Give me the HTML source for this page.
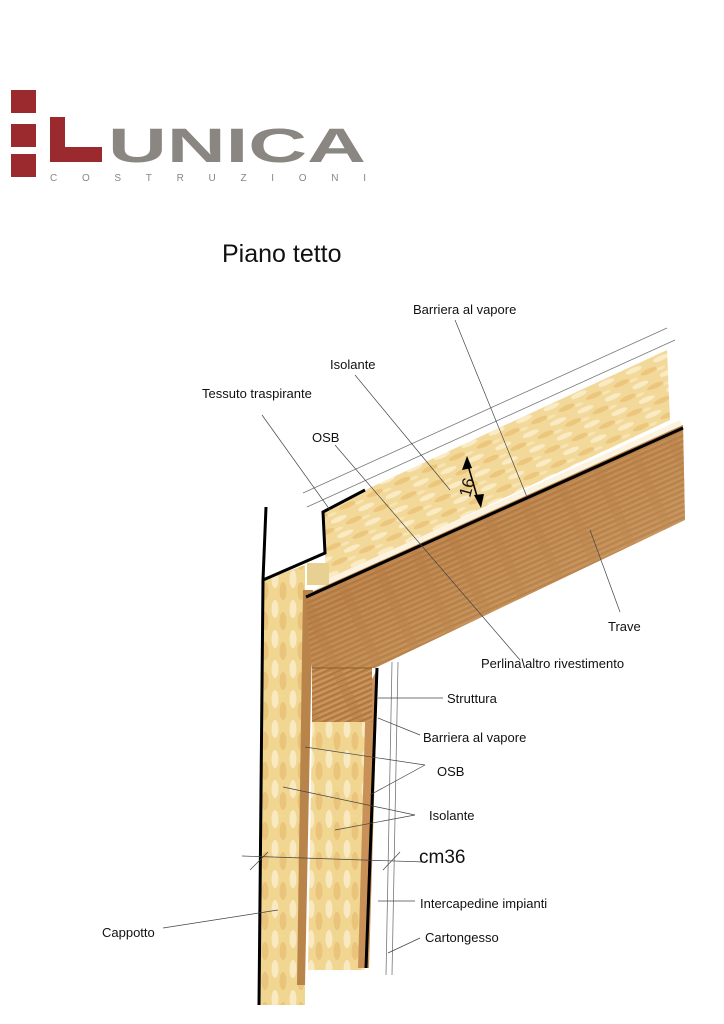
<!DOCTYPE html>
<html><head><meta charset="utf-8"><style>
body{margin:0;background:#fff}
svg{display:block}
text{font-family:"Liberation Sans",sans-serif;fill:#111}
</style></head><body>
<svg width="724" height="1024" viewBox="0 0 724 1024" xmlns="http://www.w3.org/2000/svg">
<defs>
<pattern id="insp" width="30" height="16" patternUnits="userSpaceOnUse" patternTransform="rotate(-24)">
<rect width="30" height="16" fill="#f3d999"/>
<ellipse cx="8" cy="4" rx="9" ry="2.5" fill="#faebc4"/>
<ellipse cx="22" cy="11" rx="9" ry="2.5" fill="#ebc67c"/>
<ellipse cx="4" cy="13" rx="5" ry="1.5" fill="#f8e5b5"/>
</pattern>
<pattern id="insv" width="18" height="30" patternUnits="userSpaceOnUse">
<rect width="18" height="30" fill="#f1d692"/>
<ellipse cx="5" cy="9" rx="3.5" ry="9" fill="#f9e9c0"/>
<ellipse cx="13" cy="21" rx="3.5" ry="9" fill="#e9c47a"/>
</pattern>
<linearGradient id="wood" x1="0" y1="0" x2="1" y2="1">
<stop offset="0" stop-color="#c48f58"/><stop offset="0.4" stop-color="#b57a42"/><stop offset="0.7" stop-color="#c99a63"/><stop offset="1" stop-color="#a8703c"/>
</linearGradient>
<pattern id="woodp" width="40" height="5" patternUnits="userSpaceOnUse" patternTransform="rotate(-24)">
<rect width="40" height="5" fill="#bf8950"/>
<rect y="0" width="40" height="1.5" fill="#ad743f"/>
<rect y="3" width="30" height="1" fill="#cf9f68"/>
</pattern>
</defs>

<rect x="11" y="90" width="25" height="23" fill="#9b2a2f"/>
<rect x="11" y="124" width="25" height="23" fill="#9b2a2f"/>
<rect x="11" y="154" width="25" height="23" fill="#9b2a2f"/>
<path d="M50 117h15v30h37v15h-52z" fill="#9b2a2f"/>
<text x="108" y="162" font-size="48" font-weight="bold" style="fill:#8a8682" textLength="258" lengthAdjust="spacingAndGlyphs">UNICA</text>
<text x="50" y="181" font-size="10" style="fill:#8a8682" textLength="316" lengthAdjust="spacing">COSTRUZIONI</text>

<text x="222" y="262" font-size="25">Piano tetto</text>

<line x1="303" y1="493" x2="667" y2="328" stroke="#777" stroke-width="0.8"/>
<line x1="307" y1="507" x2="675" y2="340" stroke="#777" stroke-width="0.8"/>

<polygon points="325,555 323,512 365,490 667,350 670,420 325,582" fill="url(#insp)"/>
<polygon points="325,580 680,420 683,428 308,597" fill="#fbf3df"/>
<rect x="307" y="563" width="22" height="22" fill="#e8cf92"/>

<polygon points="264,580 305,565 305,1005 259,1005" fill="url(#insv)"/>
<polygon points="303,590 313,590 305,985 297,985" fill="#b9844a"/>
<polygon points="312,720 372,720 365,970 308,970" fill="url(#insv)"/>
<polygon points="366,690 378,668 369,968 358,968" fill="#c99158"/>

<polygon points="305,595 683,425 685,520 375,668 312,668" fill="url(#woodp)"/>
<polygon points="305,595 683,425 685,520 375,668 312,668" fill="url(#wood)" opacity="0.45"/>
<rect x="312" y="668" width="60" height="54" fill="url(#woodp)"/>
<line x1="372" y1="668" x2="312" y2="668" stroke="#8b5a2b" stroke-width="1"/>

<polyline points="266,507 263,580 325,553 323,512 365,490" fill="none" stroke="#000" stroke-width="3"/>
<line x1="263" y1="580" x2="259" y2="1005" stroke="#000" stroke-width="3"/>
<line x1="306" y1="597" x2="683" y2="428" stroke="#000" stroke-width="3"/>
<line x1="377" y1="668" x2="366" y2="968" stroke="#000" stroke-width="3"/>
<line x1="392" y1="662" x2="386" y2="975" stroke="#777" stroke-width="0.8"/>
<line x1="398" y1="662" x2="392" y2="975" stroke="#777" stroke-width="0.8"/>

<line x1="467" y1="462" x2="479" y2="503" stroke="#000" stroke-width="1.5"/>
<polygon points="467,456 462,470 472,468" fill="#000"/>
<polygon points="481,508 474,495 484,494" fill="#000"/>
<text x="0" y="0" font-size="17" transform="translate(470,498) rotate(-75)">16</text>

<g stroke="#444" stroke-width="0.7" fill="none">
<line x1="262" y1="415" x2="330" y2="510"/>
<line x1="335" y1="445" x2="520" y2="660"/>
<line x1="355" y1="375" x2="450" y2="490"/>
<line x1="455" y1="320" x2="527" y2="497"/>
<line x1="590" y1="530" x2="620" y2="612"/>
<line x1="378" y1="698" x2="443" y2="698"/>
<line x1="378" y1="718" x2="420" y2="735"/>
<line x1="305" y1="747" x2="425" y2="765"/>
<line x1="370" y1="795" x2="425" y2="765"/>
<line x1="283" y1="787" x2="415" y2="815"/>
<line x1="335" y1="830" x2="415" y2="815"/>
<line x1="242" y1="856" x2="425" y2="862"/>
<line x1="250" y1="870" x2="268" y2="852"/>
<line x1="383" y1="870" x2="400" y2="852"/>
<line x1="378" y1="901" x2="415" y2="901"/>
<line x1="388" y1="953" x2="420" y2="938"/>
<line x1="163" y1="928" x2="278" y2="910"/>
</g>

<g font-size="13">
<text x="413" y="314">Barriera al vapore</text>
<text x="330" y="369">Isolante</text>
<text x="202" y="398">Tessuto traspirante</text>
<text x="312" y="442">OSB</text>
<text x="608" y="631">Trave</text>
<text x="481" y="668">Perlina\altro rivestimento</text>
<text x="447" y="703">Struttura</text>
<text x="423" y="742">Barriera al vapore</text>
<text x="437" y="776">OSB</text>
<text x="429" y="820">Isolante</text>
<text x="420" y="908">Intercapedine impianti</text>
<text x="425" y="942">Cartongesso</text>
<text x="102" y="937">Cappotto</text>
</g>
<text x="419" y="863" font-size="19">cm36</text>
</svg>
</body></html>
